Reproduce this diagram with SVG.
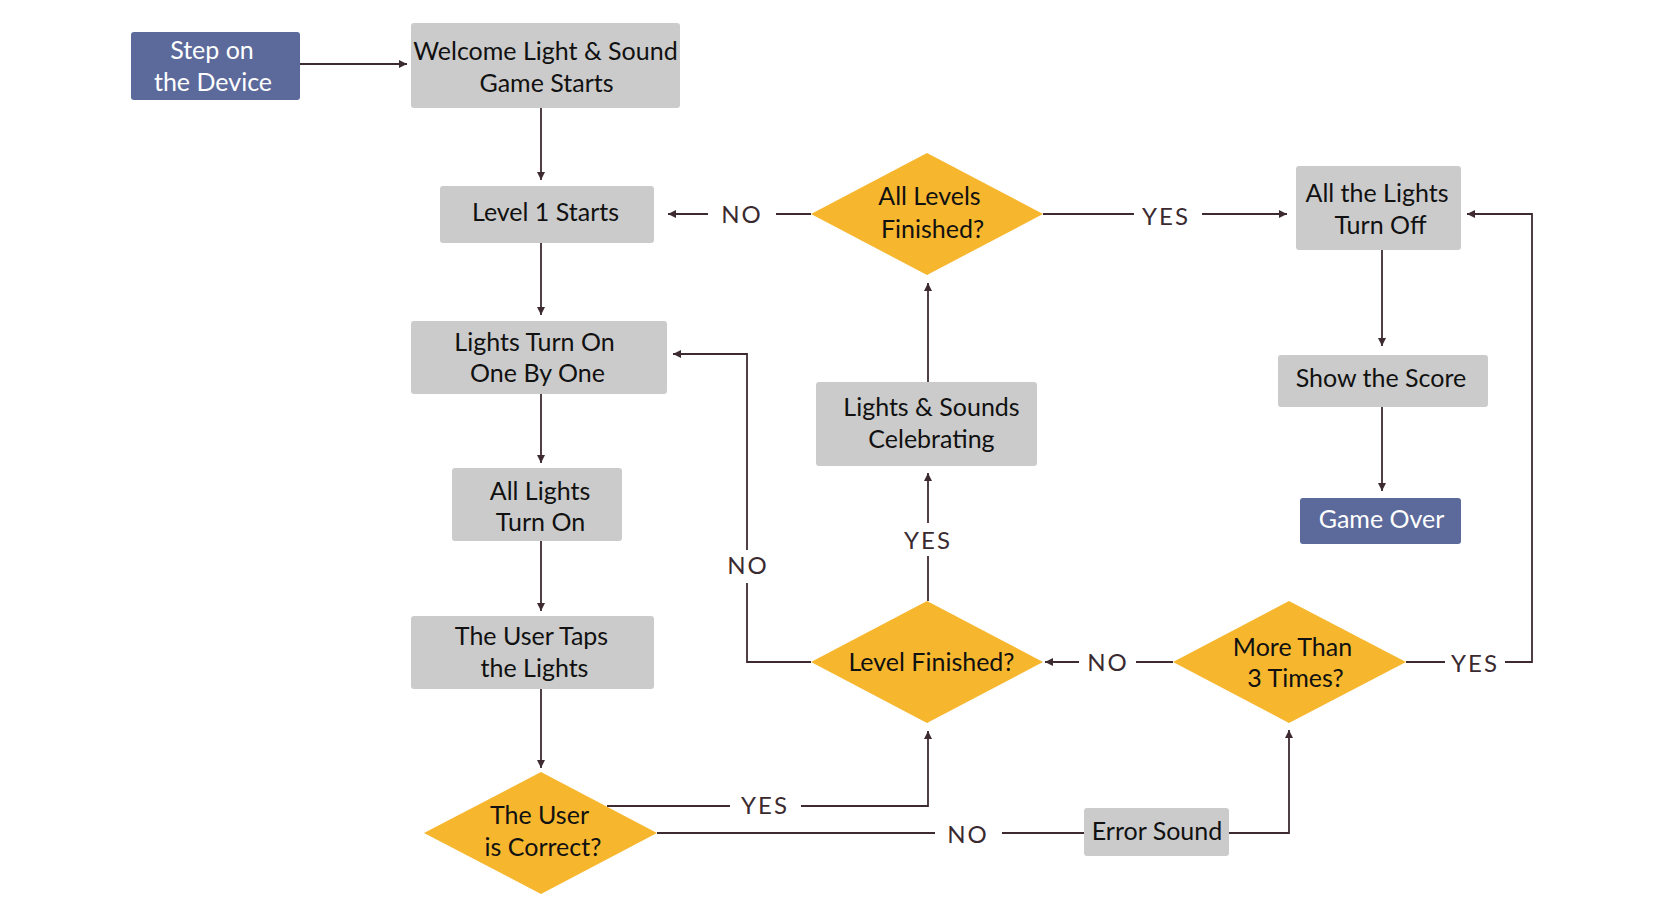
<svg xmlns="http://www.w3.org/2000/svg" width="1670" height="914" viewBox="0 0 1670 914">
<style>
.box{fill:#cbcbcb}
.blue{fill:#5b6a9b}
.dia{fill:#f6b72f}
.t{font-family:Lato,"Open Sans","Liberation Sans",sans-serif;font-size:25px;fill:#111111;text-anchor:middle}
.w{fill:#ffffff}
.lbl{font-family:Lato,"Open Sans","Liberation Sans",sans-serif;font-size:24px;font-weight:400;fill:#3a2a30;text-anchor:middle;letter-spacing:2px}
.c{fill:none;stroke:#3d2b31;stroke-width:1.8}
</style>
<defs>
<marker id="ah" markerUnits="userSpaceOnUse" markerWidth="9" markerHeight="8" refX="8" refY="4" orient="auto">
<path d="M0,0 L8,4 L0,8 z" fill="#3d2b31"/>
</marker>
</defs>
<rect width="1670" height="914" fill="#ffffff"/>
<g id="connectors">
<path class="c" d="M300,64 H407" marker-end="url(#ah)"/>
<path class="c" d="M541,108 V180" marker-end="url(#ah)"/>
<path class="c" d="M541,243 V315" marker-end="url(#ah)"/>
<path class="c" d="M541,394 V463" marker-end="url(#ah)"/>
<path class="c" d="M541,541 V611" marker-end="url(#ah)"/>
<path class="c" d="M541,689 V768" marker-end="url(#ah)"/>
<path class="c" d="M607,806 H730"/>
<path class="c" d="M801,806 H928 V731" marker-end="url(#ah)"/>
<path class="c" d="M657,833 H935"/>
<path class="c" d="M1002,833 H1084"/>
<path class="c" d="M1229,833 H1289 V730" marker-end="url(#ah)"/>
<path class="c" d="M1173,662 H1136"/>
<path class="c" d="M1079,662 H1045" marker-end="url(#ah)"/>
<path class="c" d="M1406,662 H1445"/>
<path class="c" d="M1505,662 H1532 V214 H1467" marker-end="url(#ah)"/>
<path class="c" d="M811,662 H747 V583"/>
<path class="c" d="M747,550 V354 H673" marker-end="url(#ah)"/>
<path class="c" d="M928,601 V556"/>
<path class="c" d="M928,523 V473" marker-end="url(#ah)"/>
<path class="c" d="M928,382 V283" marker-end="url(#ah)"/>
<path class="c" d="M811,214 H776"/>
<path class="c" d="M708,214 H668" marker-end="url(#ah)"/>
<path class="c" d="M1043,214 H1134"/>
<path class="c" d="M1202,214 H1287" marker-end="url(#ah)"/>
<path class="c" d="M1382,250 V346" marker-end="url(#ah)"/>
<path class="c" d="M1382,407 V491" marker-end="url(#ah)"/>
<text class="lbl" x="742" y="223">NO</text>
<text class="lbl" x="1166" y="225">YES</text>
<text class="lbl" x="748" y="574">NO</text>
<text class="lbl" x="928" y="549">YES</text>
<text class="lbl" x="1108" y="671">NO</text>
<text class="lbl" x="1475" y="672">YES</text>
<text class="lbl" x="765" y="814">YES</text>
<text class="lbl" x="968" y="843">NO</text>
</g>
<g id="step">
<rect class="blue" x="131" y="32" width="169" height="68" rx="3"/>
<text class="t w" x="212" y="59">Step on</text>
<text class="t w" x="213" y="91">the Device</text>
</g>
<g id="welcome">
<rect class="box" x="411" y="23" width="269" height="85" rx="3"/>
<text class="t" x="545.5" y="60">Welcome Light &amp; Sound</text>
<text class="t" x="546.5" y="92">Game Starts</text>
</g>
<g id="level1">
<rect class="box" x="440" y="186" width="214" height="57" rx="3"/>
<text class="t" x="545.5" y="221">Level 1 Starts</text>
</g>
<g id="lightsOn">
<rect class="box" x="411" y="321" width="256" height="73" rx="3"/>
<text class="t" x="534.5" y="351">Lights Turn On</text>
<text class="t" x="537.5" y="382">One By One</text>
</g>
<g id="allLights">
<rect class="box" x="452" y="468" width="170" height="73" rx="3"/>
<text class="t" x="540" y="500">All Lights</text>
<text class="t" x="540.5" y="531">Turn On</text>
</g>
<g id="userTaps">
<rect class="box" x="411" y="616" width="243" height="73" rx="3"/>
<text class="t" x="531.5" y="645">The User Taps</text>
<text class="t" x="534.5" y="677">the Lights</text>
</g>
<g id="correct">
<polygon class="dia" points="541,772 657,833 541,894 424,833"/>
<text class="t" x="539.5" y="824">The User</text>
<text class="t" x="543" y="856">is Correct?</text>
</g>
<g id="errorSound">
<rect class="box" x="1084" y="808" width="145" height="48" rx="3"/>
<text class="t" x="1157" y="840">Error Sound</text>
</g>
<g id="moreThan">
<polygon class="dia" points="1289,601 1406,662 1289,723 1173,662"/>
<text class="t" x="1292.5" y="656">More Than</text>
<text class="t" x="1295.5" y="687">3 Times?</text>
</g>
<g id="levelFinished">
<polygon class="dia" points="927,601 1043,662 927,723 811,662"/>
<text class="t" x="931.5" y="671">Level Finished?</text>
</g>
<g id="celebrating">
<rect class="box" x="816" y="382" width="221" height="84" rx="3"/>
<text class="t" x="931.5" y="416">Lights &amp; Sounds</text>
<text class="t" x="931.5" y="448">Celebrating</text>
</g>
<g id="allLevels">
<polygon class="dia" points="927,153 1043,214 927,275 811,214"/>
<text class="t" x="929.5" y="205">All Levels</text>
<text class="t" x="932.5" y="238">Finished?</text>
</g>
<g id="lightsOff">
<rect class="box" x="1296" y="166" width="165" height="84" rx="3"/>
<text class="t" x="1377" y="202">All the Lights</text>
<text class="t" x="1380.5" y="234">Turn Off</text>
</g>
<g id="score">
<rect class="box" x="1278" y="355" width="210" height="52" rx="3"/>
<text class="t" x="1381" y="387">Show the Score</text>
</g>
<g id="gameOver">
<rect class="blue" x="1300" y="498" width="161" height="46" rx="3"/>
<text class="t w" x="1381.5" y="528">Game Over</text>
</g>
</svg>
